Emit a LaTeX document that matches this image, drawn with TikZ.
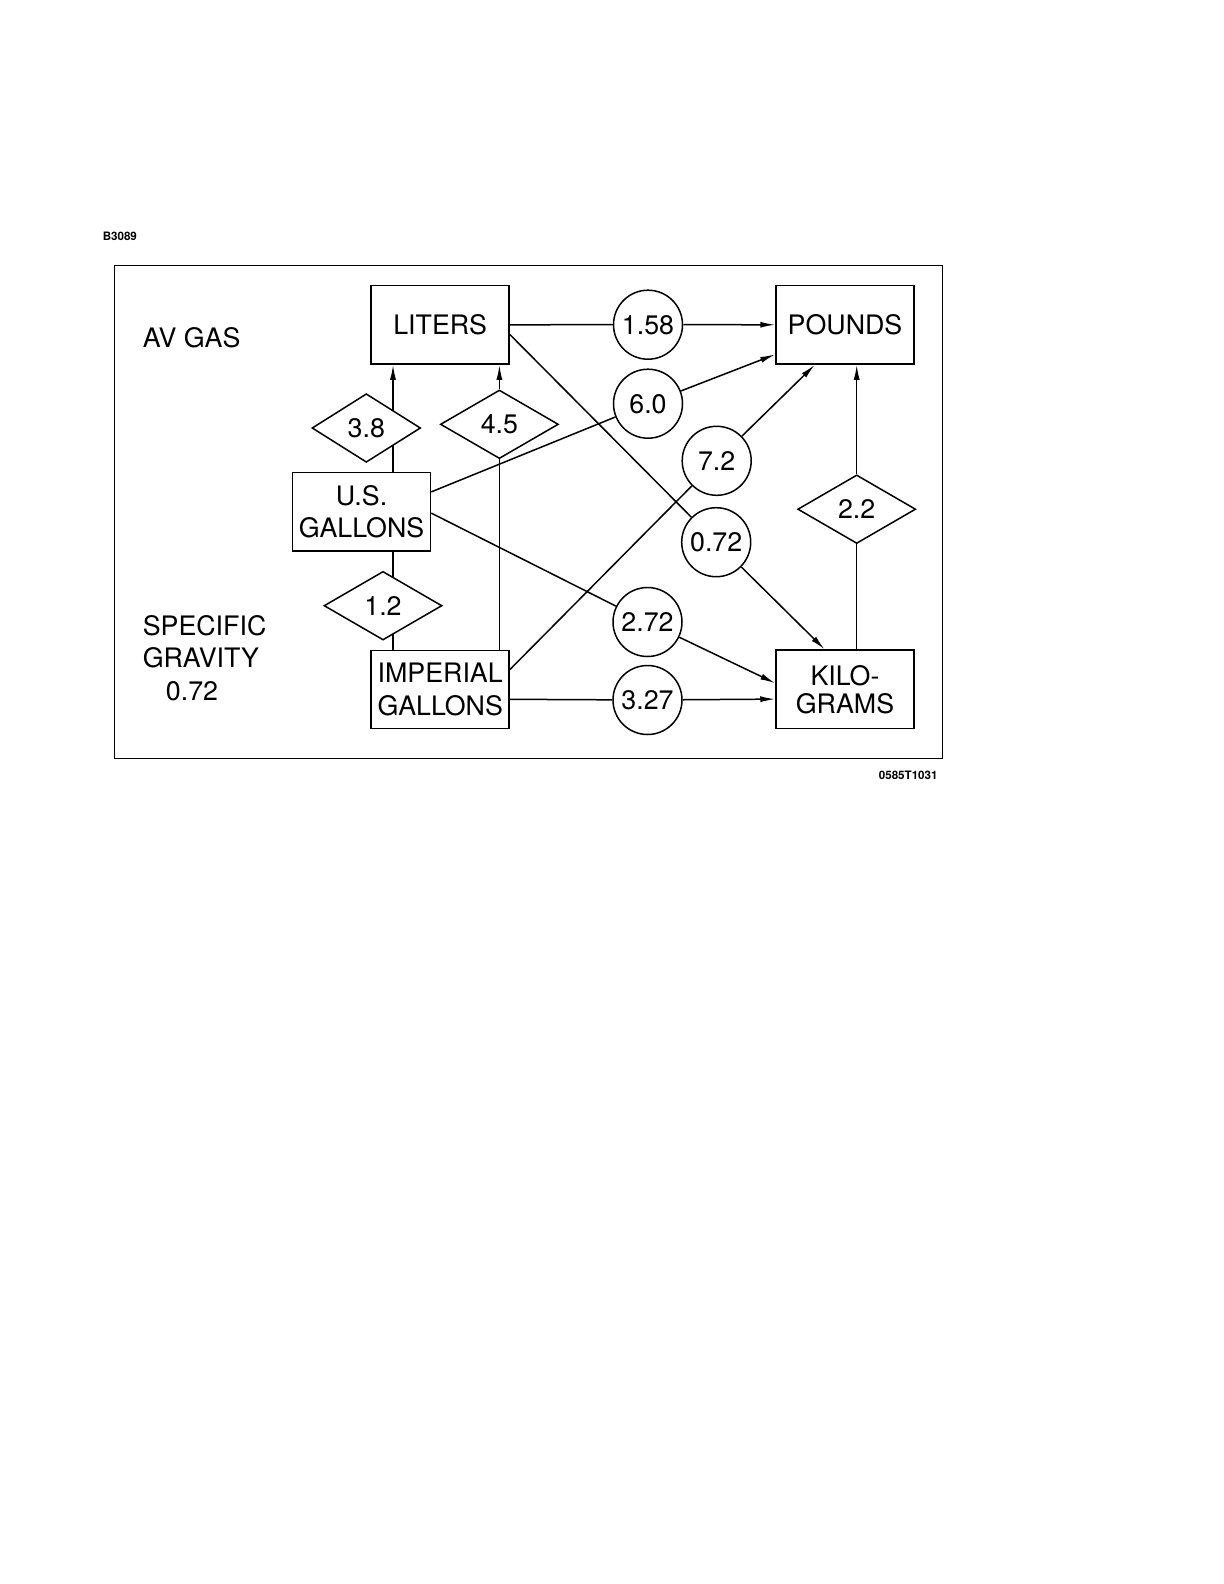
\documentclass[tikz,border=0pt]{standalone}
\usepackage{fontspec}
\setmainfont{TeX Gyre Heros}
\usetikzlibrary{arrows.meta,shapes.geometric}
\tikzset{
  unitbox/.style={draw,minimum width=69pt,minimum height=39.2pt,inner sep=0pt,
    align=center,font=\fontsize{13.4}{16.2}\selectfont},
  factor/.style={circle,draw,minimum size=34.5pt,inner sep=0pt,
    font=\fontsize{13.4}{16.2}\selectfont},
  ratio/.style={diamond,draw,fill=white,minimum width=59pt,minimum height=34.3pt,
    inner sep=0pt,font=\fontsize{13.4}{16.2}\selectfont},
  caption/.style={inner sep=0pt,align=left,font=\fontsize{13.4}{16.2}\selectfont},
  tag/.style={inner sep=0pt,font=\fontsize{5.8}{7}\selectfont\bfseries},
  arrow/.style={-{Latex[length=7.5pt,width=3pt]}}
}

\begin{document}
\begin{tikzpicture}[x=0.5pt,y=-0.5pt,line width=0.75pt]
\useasboundingbox (0,0) rectangle (1224,1584);

\node[tag,anchor=west] (fig) at (102,236) {B3089};
\node[tag,anchor=east] (ref) at (938.3,775) {0585T1031};
\draw (114.7,265.7) rectangle (942.3,758.3);

\node[caption,anchor=west] (fuel) at (142,338) {AV GAS};
\node[caption,anchor=west] (sg) at (142,658) {SPECIFIC\\GRAVITY\\\hspace*{11.6pt}0.72};

% units
\node[unitbox] (lit) at (440.2,324.8) {LITERS};
\node[unitbox] (pnd) at (845,324.8) {POUNDS};
\node[unitbox] (usg) at (361.5,511.9) {U.S.\\GALLONS};
\node[unitbox] (img) at (440.2,689.5) {IMPERIAL\\GALLONS};
\node[unitbox,font=\fontsize{13.4}{14}\selectfont] (kg) at (845,689.3) {KILO-\\GRAMS};

% factors
\node[factor] (f158) at (648,324.7) {1.58};
\node[factor] (f60) at (648,403.7) {6.0};
\node[factor] (f72) at (716.7,460.8) {7.2};
\node[factor] (f072) at (716.2,542.2) {0.72};
\node[factor] (f272) at (647.5,622) {2.72};
\node[factor] (f327) at (647.5,700) {3.27};

\draw (lit) -- (f158);
\draw[arrow] (f158) -- (pnd);
\draw (usg.16) -- (f60);
\draw[arrow] (f60) -- (pnd.203);
\draw (img.16) -- (f72);
\draw[arrow] (f72) -- (pnd.233);
\draw (lit.352) -- (f072);
\draw[arrow] (f072) -- (kg.117);
\draw (usg.359) -- (f272);
\draw[arrow] (f272) -- (kg.175);
\draw (img.352) -- (f327);
\draw[arrow] (f327) -- (kg.188);

% gallon lines pass behind the 3.8 and 1.2 diamonds
\coordinate (v38) at ([xshift=15.75pt]usg.north);
\draw[arrow] (v38) -- (v38 |- lit.south);
\draw (v38 |- usg.south) -- (v38 |- img.north);

% ratios
\node[ratio,minimum width=54.3pt] (r38) at (366.3,428) {3.8};
\node[ratio] (r45) at (499.4,424.3) {4.5};
\node[ratio] (r12) at (383,605.7) {1.2};
\node[ratio] (r22) at (856.7,509.2) {2.2};

\draw (img.north -| r45) -- (r45);
\draw[arrow] (r45) -- (lit.south -| r45);
\draw (kg.north -| r22) -- (r22);
\draw[arrow] (r22) -- (pnd.south -| r22);

\end{tikzpicture}
\end{document}
